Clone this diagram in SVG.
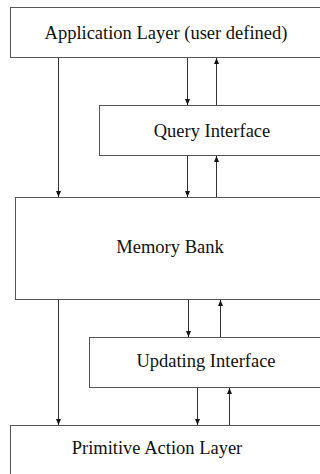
<svg xmlns="http://www.w3.org/2000/svg" width="320" height="474" viewBox="0 0 320 474">
<style>
.box{fill:#fff;stroke:#555;stroke-width:1}
.lbl{font-family:'Liberation Serif','Times New Roman',serif;font-size:18.5px;fill:#111;text-anchor:middle}
.con{stroke:#333;stroke-width:1;fill:none;marker-end:url(#ah)}
</style>
<defs>
<marker id="ah" viewBox="0 0 6 6" refX="6" refY="3" markerWidth="6" markerHeight="6" markerUnits="userSpaceOnUse" orient="auto">
<path d="M0,0.5 L6,3 L0,5.5 Z" fill="#111"/>
</marker>
</defs>
<rect width="320" height="474" fill="#fff"/>
<g id="app"><rect class="box" x="10.5" y="7.5" width="320" height="50"/><text class="lbl" x="166" y="39">Application Layer (user defined)</text></g>
<g id="query"><rect class="box" x="99.5" y="105.5" width="230" height="50"/><text class="lbl" x="212" y="137">Query Interface</text></g>
<g id="memory"><rect class="box" x="15.5" y="197.5" width="320" height="102"/><text class="lbl" x="170" y="253">Memory Bank</text></g>
<g id="updating"><rect class="box" x="89.5" y="337.5" width="240" height="50"/><text class="lbl" x="206" y="367">Updating Interface</text></g>
<g id="primitive"><rect class="box" x="10.5" y="425.5" width="320" height="60"/><text class="lbl" x="157" y="454">Primitive Action Layer</text></g>
<g id="connectors">
<path class="con" d="M58.5,58 V197"/>
<path class="con" d="M187.5,58 V105"/>
<path class="con" d="M216.5,105 V58"/>
<path class="con" d="M187.5,156 V197"/>
<path class="con" d="M216.5,197 V156"/>
<path class="con" d="M58.5,300 V425"/>
<path class="con" d="M188.5,300 V337"/>
<path class="con" d="M220.5,337 V300"/>
<path class="con" d="M197.5,388 V425"/>
<path class="con" d="M229.5,425 V388"/>
</g>
</svg>
